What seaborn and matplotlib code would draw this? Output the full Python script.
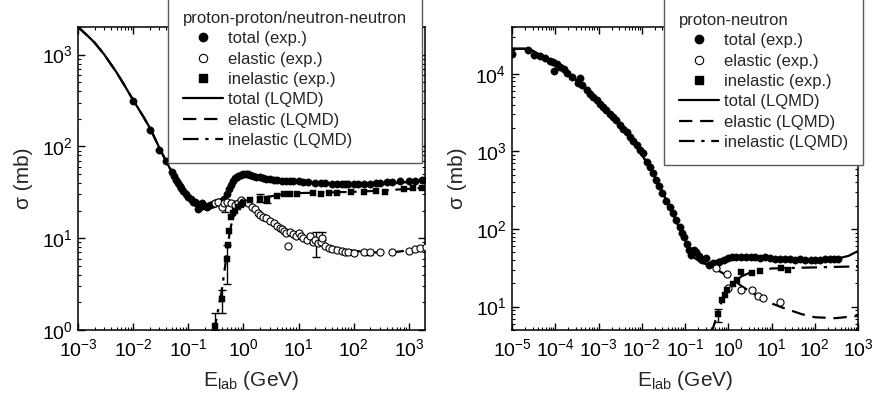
import numpy as np
import pandas as pd
import matplotlib
matplotlib.use("Agg")
import matplotlib.pyplot as plt
import seaborn as sns
from matplotlib.lines import Line2D
from matplotlib.ticker import LogLocator, NullFormatter

# ---------------- data: proton-proton / neutron-neutron ----------------
pp_tot_E = [0.01, 0.02, 0.03, 0.04, 0.05, 0.055, 0.06, 0.065, 0.07, 0.075, 0.08, 0.09, 0.1, 0.11, 0.12,
            0.13, 0.14, 0.15, 0.16, 0.18, 0.2, 0.22, 0.25, 0.28, 0.3, 0.35, 0.4, 0.45, 0.5, 0.55,
            0.6, 0.65, 0.7, 0.75, 0.8, 0.9, 1.0, 1.1, 1.2, 1.3, 1.5, 1.7, 2.0, 2.3, 2.6,
            3.0, 3.5, 4.0, 5.0, 6.0, 7, 8, 10, 12, 15, 20, 25, 30, 40, 50,
            60, 70, 80, 100, 120, 150, 200, 250, 300, 400, 500, 700, 1000, 1300, 1700, 2000]
pp_tot_S = [310, 152, 92, 70, 53, 48, 43, 40, 37, 35, 33, 30, 28, 26.5, 25,
            24.5, 24, 21, 22, 24, 22.5, 22, 23, 23.5, 24, 24.5, 25.5, 27, 30, 34,
            38, 42, 45, 47, 48, 49, 49.5, 50, 49.5, 49, 48, 47, 46, 45, 44.5,
            44, 43.5, 43, 42.5, 42, 42, 41.5, 41.5, 41, 40.5, 40, 40, 39.5, 39, 39,
            38.5, 38.5, 38.5, 38.5, 38.7, 39, 39.2, 39.5, 40, 40.5, 41, 41.5, 42, 42.5, 43, 43.5]

pp_el_E = [0.3, 0.35, 0.4, 0.45, 0.5, 0.6, 0.7, 0.8, 0.9, 1.0, 1.2, 1.4, 1.6, 1.8, 2.0,
           2.3, 2.6, 3, 3.5, 4, 4.5, 5, 5.5, 6, 6.5, 7, 8, 9, 10, 11,
           12, 14, 16, 18, 20, 22, 25, 27, 30, 35, 40, 50, 60, 70, 80,
           100, 150, 200, 300, 500, 1000, 1300, 1600, 2000]
pp_el_S = [24, 25, 22, 24, 25, 24, 23, 24, 26, 25, 24, 22, 21, 19, 18,
           17, 16.5, 15.5, 14.5, 13.5, 13, 12.5, 12, 11.5, 8.2, 11.8, 11, 10.5, 11.5, 10.5,
           10, 9.5, 10.5, 9, 9.5, 8.8, 9, 10, 8.2, 7.8, 7.6, 7.4, 7.2, 7.0, 7.0,
           6.9, 7.0, 7.0, 7.0, 7.0, 7.3, 7.6, 7.8, 8.0]

pp_inel_E = [0.3, 0.4, 0.5, 0.52, 0.55, 0.6, 0.65, 0.7, 0.8, 0.9, 1.0, 1.3, 2.0, 2.7, 4.0,
             5.5, 7, 9.5, 18, 25, 35, 50, 90, 150, 250, 370, 800, 1200, 1700]
pp_inel_S = [1.1, 2.2, 6.0, 8.5, 12, 17, 19, 20, 22, 23, 24, 26, 27, 26, 29,
             30, 30, 30.5, 31, 30, 31, 31, 32, 32, 32.5, 32, 34, 35, 35.5]

# error bars (E, value, low, high)
pp_inel_err_E = [0.3, 0.4, 0.5, 2.0, 2.7]
pp_inel_err_S = [1.1, 2.2, 6.0, 27, 26]
pp_inel_err_lo = [1.0, 1.55, 3.2, 25, 24]
pp_inel_err_hi = [1.55, 2.75, 8.5, 30, 29]
pp_el_err_E = [0.47, 21, 27, 190]
pp_el_err_S = [22, 9.5, 10.0, 7.0]
pp_el_err_lo = [19.5, 6.3, 9.6, 6.6]
pp_el_err_hi = [25.7, 11.7, 11.7, 7.4]

pp_model_E = [0.001, 0.0015, 0.002, 0.003, 0.005, 0.007, 0.01, 0.015, 0.02, 0.03,
              0.04, 0.05, 0.07, 0.1, 0.13, 0.16, 0.2, 0.25, 0.3, 0.35,
              0.4, 0.45, 0.5, 0.55, 0.6, 0.7, 0.8, 1.0, 1.3, 1.6,
              2, 3, 5, 10, 20, 50, 100, 200, 500, 1000, 2000]
pp_model_tot = [2000, 1600, 1350, 1000, 640, 460, 320, 215, 160, 96,
                68, 53, 36, 27.5, 24, 22.5, 22, 22.5, 23, 24,
                25, 27, 30, 34, 38, 44, 47, 48.5, 48.5, 47.5,
                46.5, 44.5, 43, 41.5, 40.5, 39, 38.5, 38.7, 39.5, 41, 43.5]
pp_model_el = [2000, 1600, 1350, 1000, 640, 460, 320, 215, 160, 96,
               68, 53, 36, 27.5, 24, 22.5, 22, 22.5, 23, 23.5,
               24, 24, 24.5, 24.5, 25, 25, 25, 24.5, 23, 21,
               19, 16, 13, 10.5, 9.2, 7.8, 7.3, 7.0, 7.0, 7.4, 8.0]
pp_model_inel_E = [0.29, 0.3, 0.33, 0.36, 0.4, 0.45, 0.5, 0.55, 0.6, 0.7,
                   0.8, 1.0, 1.5, 2, 3, 5, 10, 30, 100, 300, 1000, 2000]
pp_model_inel = [0.9, 1.05, 1.4, 1.9, 2.6, 4.3, 7.0, 10.5, 14, 19,
                 22, 24.5, 26.5, 27.5, 28.5, 30, 31, 31.5, 32, 33, 34.5, 35.5]

# ---------------- data: proton-neutron ----------------
pn_tot_E = [1e-5, 2.3e-5, 3.2e-5, 4.5e-5, 5.8e-5, 7.5e-5, 8.9e-5, 9.3e-5, 1.1e-4, 1.3e-4,
            1.6e-4, 1.9e-4, 2.5e-4, 3.3e-4, 3.7e-4, 4.2e-4, 5.4e-4, 6.5e-4, 7.5e-4, 9e-4,
            1.1e-3, 1.3e-3, 1.5e-3, 1.8e-3, 2.2e-3, 2.6e-3, 3.1e-3, 3.7e-3, 4.5e-3, 5.3e-3,
            6.3e-3, 7.6e-3, 9e-3, 0.0105, 0.013, 0.0155, 0.0178, 0.021, 0.025, 0.03,
            0.036, 0.044, 0.052, 0.063, 0.075, 0.085, 0.097, 0.11, 0.126, 0.14,
            0.16, 0.18, 0.21, 0.25, 0.31, 0.36, 0.45, 0.62, 0.8, 1.0,
            1.2, 1.5, 2.0, 2.6, 3.3, 4.2, 5.5, 7, 9, 12,
            16, 20, 27, 35, 45, 60, 80, 100, 130, 170, 220, 280, 350]
pn_tot_S = [18100, 20400, 17600, 17000, 16100, 14700, 14300, 10900, 13300, 12300,
            11400, 10300, 9150, 7650, 8900, 7200, 6200, 5500, 5000, 4600,
            4100, 3700, 3400, 3000, 2750, 2500, 2200, 1950, 1760, 1550,
            1380, 1200, 1050, 940, 720, 620, 520, 430, 360, 290,
            230, 190, 160, 130, 105, 90, 79, 65, 54, 46,
            54, 50, 45, 40, 42, 34, 37, 37.5, 40, 42,
            43.5, 44, 44, 44, 43.5, 43, 42.5, 44, 42, 41.5,
            41, 41, 40.5, 40, 40.5, 40, 40, 40, 40, 40.5, 40.5, 41, 41]

pn_el_E = [0.53, 0.95, 1.0, 2.0, 3.5, 4.8, 6.2, 16]
pn_el_S = [31, 26, 17.5, 16.5, 16.2, 13.6, 13, 11.6]

pn_inel_E = [0.57, 0.73, 0.85, 0.95, 1.3, 1.6, 2.0, 3.5, 5.5, 17, 24]
pn_inel_S = [8.0, 12.3, 14, 16.5, 19.5, 22, 28, 27.5, 29, 31, 30]

pn_inel_err_E = [0.57]
pn_inel_err_S = [8.0]
pn_inel_err_lo = [6.4]
pn_inel_err_hi = [9.3]

pn_model_E = [1e-5, 2.5e-5, 5e-5, 1e-4, 2e-4, 5e-4, 1e-3, 2e-3, 5e-3, 0.01,
              0.02, 0.03, 0.05, 0.07, 0.1, 0.13, 0.17, 0.22, 0.3, 0.4,
              0.6, 1.0, 2.0, 5.0, 10, 30, 100, 300, 600, 1000]
pn_model_tot = [21000, 21000, 16800, 13000, 10300, 6300, 4300, 2800, 1600, 920,
                470, 300, 165, 110, 72, 52, 42, 38, 35.5, 36.5,
                40, 43, 44, 43, 42, 40.5, 40, 41, 45, 52]
pn_model_el_E = [1e-5, 2.5e-5, 5e-5, 1e-4, 2e-4, 5e-4, 1e-3, 2e-3, 5e-3, 0.01,
                 0.02, 0.03, 0.05, 0.07, 0.1, 0.13, 0.17, 0.22, 0.3, 0.4,
                 0.6, 1.0, 1.5, 2, 3, 5, 10, 20, 50, 100, 300, 1000]
pn_model_el = [21000, 21000, 16800, 13000, 10300, 6300, 4300, 2800, 1600, 920,
               470, 300, 165, 110, 72, 52, 42, 38, 35.5, 33,
               29, 24.5, 21, 18.5, 16, 13.5, 11, 9.5, 8, 7.3, 7.1, 7.6]
pn_model_inel_E = [0.4, 0.43, 0.5, 0.57, 0.7, 0.9, 1.2, 1.6, 2.0, 3.0, 5.0, 10, 30, 100, 300, 1000]
pn_model_inel = [4.3, 5, 6.5, 8.4, 11.5, 15, 19, 22, 24.5, 27, 29, 31, 31.5, 32, 32.5, 33]

legend_labels = ["total (exp.)", "elastic (exp.)", "inelastic (exp.)",
                 "total (LQMD)", "elastic (LQMD)", "inelastic (LQMD)"]

# ---------------- style ----------------
sns.set_style("ticks")
plt.rcParams["font.family"] = ["Liberation Sans", "DejaVu Sans"]
plt.rcParams["mathtext.fontset"] = "custom"
plt.rcParams["mathtext.rm"] = "Liberation Sans"
plt.rcParams["mathtext.it"] = "Liberation Sans:italic"
plt.rcParams["mathtext.bf"] = "Liberation Sans:bold"

W, H = 876, 409
fig = plt.figure(figsize=(W / 100, H / 100), dpi=100)
axL = fig.add_axes([78 / W, 1 - 330 / H, (425 - 78) / W, (330 - 27) / H])
axR = fig.add_axes([512 / W, 1 - 330 / H, (858 - 512) / W, (330 - 27) / H])

DASH = (0, (6, 3.5))
DASHDOT = (0, (7, 3, 1.5, 3))
LW = 1.6


def draw(ax, tE, tS, eE, eS, iE, iS, mE, mT, meE, mEl, miE, mI, errs):
    ax.set_xscale("log")
    ax.set_yscale("log")
    sns.lineplot(x=mE, y=mT, ax=ax, color="black", lw=LW, sort=False, estimator=None)
    sns.lineplot(x=meE, y=mEl, ax=ax, color="black", lw=LW, linestyle=DASH, sort=False, estimator=None)
    sns.lineplot(x=miE, y=mI, ax=ax, color="black", lw=LW, linestyle=DASHDOT, sort=False, estimator=None)
    for (E, S, lo, hi) in errs:
        E = np.array(E); S = np.array(S); lo = np.array(lo); hi = np.array(hi)
        ax.errorbar(E, S, yerr=[S - lo, hi - S], fmt="none", ecolor="black",
                    elinewidth=1.0, capsize=3, capthick=1.0, zorder=3)
    dfT = pd.DataFrame({"E": tE, "S": tS})
    dfE = pd.DataFrame({"E": eE, "S": eS})
    dfI = pd.DataFrame({"E": iE, "S": iS})
    sns.scatterplot(data=dfT, x="E", y="S", ax=ax, marker="o", s=28, color="black",
                    edgecolor="black", linewidth=0.3, legend=False, zorder=4)
    sns.scatterplot(data=dfE, x="E", y="S", ax=ax, marker="o", s=26, facecolor="white",
                    edgecolor="black", linewidth=0.8, legend=False, zorder=4)
    sns.scatterplot(data=dfI, x="E", y="S", ax=ax, marker="s", s=20, color="black",
                    edgecolor="black", linewidth=0.3, legend=False, zorder=4)


draw(axL, pp_tot_E, pp_tot_S, pp_el_E, pp_el_S, pp_inel_E, pp_inel_S,
     pp_model_E, pp_model_tot, pp_model_E, pp_model_el, pp_model_inel_E, pp_model_inel,
     [(pp_inel_err_E, pp_inel_err_S, pp_inel_err_lo, pp_inel_err_hi),
      (pp_el_err_E, pp_el_err_S, pp_el_err_lo, pp_el_err_hi)])
draw(axR, pn_tot_E, pn_tot_S, pn_el_E, pn_el_S, pn_inel_E, pn_inel_S,
     pn_model_E, pn_model_tot, pn_model_el_E, pn_model_el, pn_model_inel_E, pn_model_inel,
     [(pn_inel_err_E, pn_inel_err_S, pn_inel_err_lo, pn_inel_err_hi)])

axL.set_xlim(1e-3, 1.95e3)
axL.set_ylim(1, 2000)
axR.set_xlim(1e-5, 1e3)
axR.set_ylim(5, 4e4)

for ax in (axL, axR):
    ax.xaxis.set_major_locator(LogLocator(base=10, numticks=30))
    ax.xaxis.set_minor_locator(LogLocator(base=10, subs=np.arange(2, 10), numticks=30))
    ax.yaxis.set_major_locator(LogLocator(base=10, numticks=30))
    ax.yaxis.set_minor_locator(LogLocator(base=10, subs=np.arange(2, 10), numticks=30))
    ax.xaxis.set_minor_formatter(NullFormatter())
    ax.yaxis.set_minor_formatter(NullFormatter())
    ax.tick_params(which="both", direction="in", top=True, right=True, colors="black")
    ax.tick_params(which="major", length=5, width=1.0, labelsize=14)
    ax.tick_params(axis="x", which="major", pad=6)
    ax.tick_params(axis="y", which="major", pad=4)
    ax.tick_params(which="minor", length=2.5, width=0.8)
    for sp in ax.spines.values():
        sp.set_color("black")
        sp.set_linewidth(1.1)
    ax.set_xlabel("E$_\\mathdefault{lab}$ (GeV)", fontsize=15, labelpad=6)
    ax.set_ylabel("σ (mb)", fontsize=15, labelpad=6)

handles = [
    Line2D([], [], ls="none", marker="o", ms=6, mfc="black", mec="black"),
    Line2D([], [], ls="none", marker="o", ms=6, mfc="white", mec="black", mew=0.8),
    Line2D([], [], ls="none", marker="s", ms=5.5, mfc="black", mec="black"),
    Line2D([], [], color="black", lw=LW),
    Line2D([], [], color="black", lw=LW, ls=DASH),
    Line2D([], [], color="black", lw=LW, ls=DASHDOT),
]


def add_legend(ax, title, x0, y0):
    leg = ax.legend(handles, legend_labels, title=title, loc="lower left",
                    bbox_to_anchor=(x0 / W, 1 - y0 / H), bbox_transform=fig.transFigure,
                    frameon=True, fancybox=False, edgecolor="0.35", framealpha=1,
                    fontsize=12, title_fontsize=12, alignment="left",
                    handlelength=2.4, handletextpad=0.3, labelspacing=0.32,
                    borderpad=0.9, borderaxespad=0)
    leg.get_frame().set_linewidth(1.0)
    leg.set_zorder(10)
    leg._legend_box.sep = 4
    return leg


add_legend(axL, "proton-proton/neutron-neutron", 168, 163)
add_legend(axR, "proton-neutron", 664, 165)

fig.savefig("out.png", dpi=100)
